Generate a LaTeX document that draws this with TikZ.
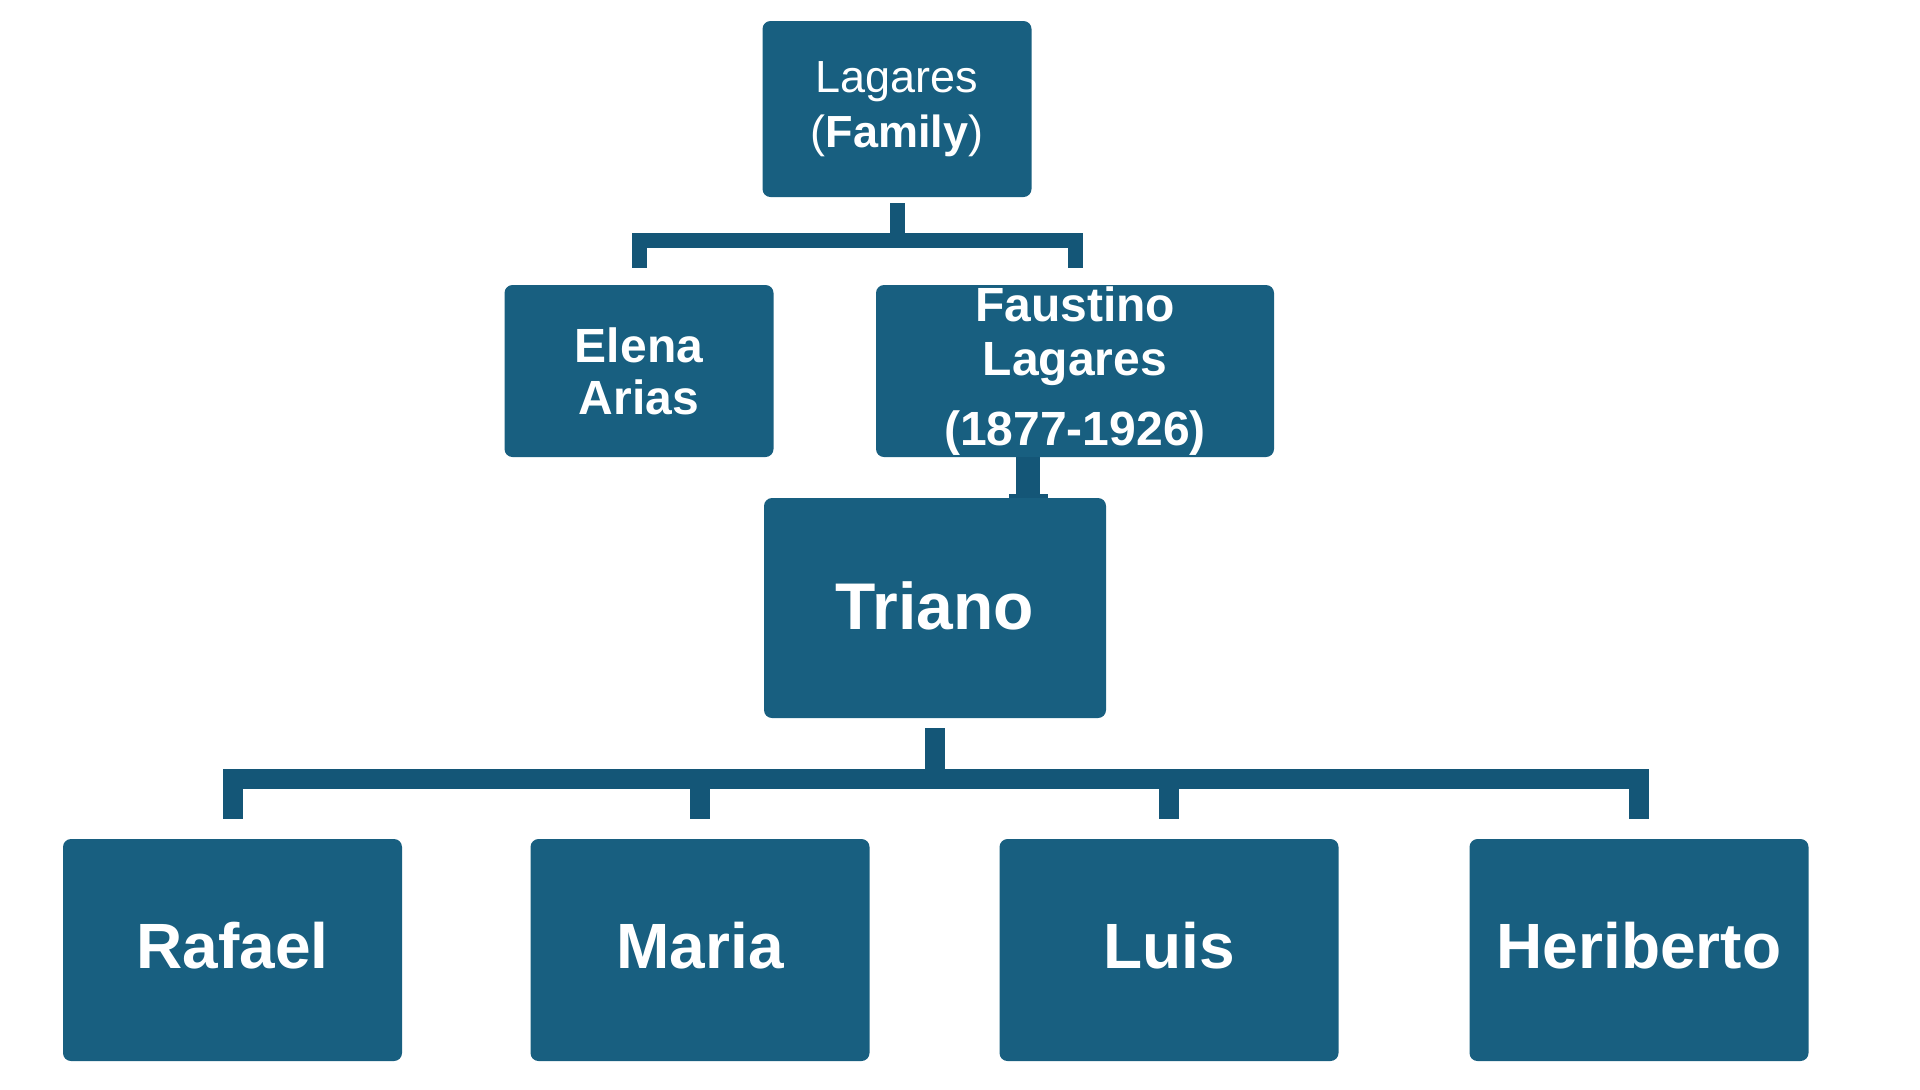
\documentclass[tikz,border=0pt]{standalone}
\usepackage{fontspec}
\setmainfont{Liberation Sans}
\definecolor{boxblue}{HTML}{185F80}
\definecolor{linkblue}{HTML}{145677}

\begin{document}
\begin{tikzpicture}[x=0.5pt,y=-0.5pt,
        person/.style={fill=boxblue,rounded corners=4pt,text=white,align=center,inner sep=0pt},
        kid/.style={person,minimum width=169.5pt,minimum height=111pt,text depth=5pt,font=\bfseries\fontsize{32}{38}\selectfont},
        link/.style={draw=linkblue,line width=7.5pt,line join=miter}]
        \useasboundingbox (0,0) rectangle (1920,1089);
        \node[person,minimum width=134.5pt,minimum height=88pt,font=\fontsize{22.5}{27.5}\selectfont] (lagares) at (897,109) {Lagares\\(\textbf{Family})};
        \node[person,minimum width=134.5pt,minimum height=86pt,font=\bfseries\fontsize{24}{26}\selectfont] (elena) at (639,371) {Elena\\Arias};
        \node[person,minimum width=199pt,minimum height=86pt,font=\bfseries\fontsize{24}{27}\selectfont] (faustino) at (1075,371) {Faustino\\Lagares\\[8pt](1877-1926)};
        \node[person,minimum width=171pt,minimum height=110pt,text depth=2.5pt,font=\bfseries\fontsize{33}{38}\selectfont] (triano) at (935,608) {Triano};
        \node[kid] (rafael) at (232.5,950) {Rafael};
        \node[kid] (maria) at (700,950) {Maria};
        \node[kid] (luis) at (1169,950) {Luis};
        \node[kid] (heriberto) at (1639,950) {Heriberto};
        % family to the couple
        \foreach \c in {elena,faustino}
            \draw[link,shorten <=3pt,shorten >=8.5pt] (lagares.south) -- ++(0,43.5) -| (\c.north);
        % Faustino to Triano
        \draw[link,line width=12pt] ([xshift=-23.5pt]faustino.south) -- ([xshift=46.5pt]triano.north);
        \draw[link,line width=2pt] ([shift={(37pt,1pt)}]triano.north) -- ([shift={(56.5pt,1pt)}]triano.north);
        % Triano to the children
        \foreach \c in {rafael,maria,luis,heriberto}
            \draw[link,line width=10pt,shorten <=5pt,shorten >=10pt] (triano.south) -- ++(0,60.5) -| (\c.north);
\end{tikzpicture}
\end{document}
